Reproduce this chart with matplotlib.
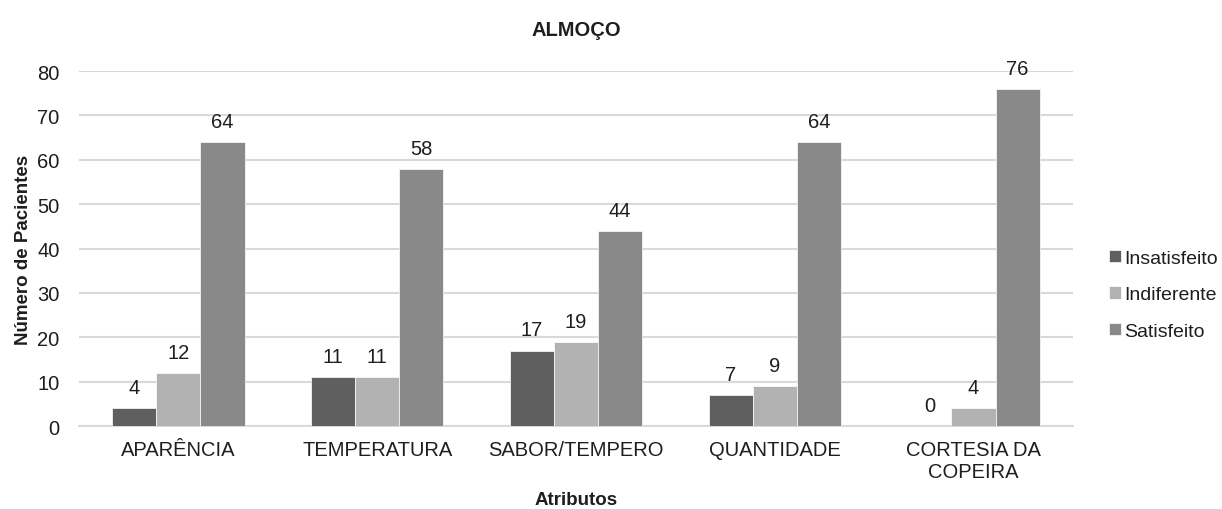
import matplotlib
matplotlib.use("Agg")
import matplotlib.pyplot as plt
import numpy as np

plt.rcParams['font.family'] = ['Liberation Sans', 'DejaVu Sans']

categories = ["APARÊNCIA", "TEMPERATURA", "SABOR/TEMPERO", "QUANTIDADE", "CORTESIA DA\nCOPEIRA"]
series_names = ["Insatisfeito", "Indiferente", "Satisfeito"]
insatisfeito = [4, 11, 17, 7, 0]
indiferente = [12, 11, 19, 9, 4]
satisfeito = [64, 58, 44, 64, 76]
yticks = [0, 10, 20, 30, 40, 50, 60, 70, 80]

colors = ["#5f5f5f", "#b2b2b2", "#898989"]
text_color = "#1e1e1e"
fs = 14.5

fig = plt.figure(figsize=(12.22, 5.10), dpi=100)
ax = fig.add_axes([0.0646, 0.1627, 0.8134, 0.6961])

x = np.arange(len(categories))
width = 0.222
for i, (vals, name, col) in enumerate(zip([insatisfeito, indiferente, satisfeito], series_names, colors)):
    pos = x + (i - 1) * width
    ax.bar(pos, vals, width, color=col, label=name, edgecolor="white", linewidth=0.5, zorder=3)
    for xb, v in zip(pos, vals):
        ax.annotate(str(v), (xb, v), xytext=(0, 8), textcoords="offset points",
                    ha="center", va="bottom", fontsize=fs, color=text_color)

ax.set_xlim(-0.5, len(categories) - 0.5)
ax.set_ylim(0, 80)
ax.set_yticks(yticks)
ax.set_xticks(x)
ax.set_xticklabels(categories, fontsize=fs, color=text_color, linespacing=1.2)
ax.tick_params(axis="y", labelsize=fs, colors=text_color, length=0, pad=14)
ax.tick_params(axis="x", length=0, pad=10)
ax.grid(axis="y", color="#d9d9d9", linewidth=1.5, zorder=0)
for s in ["top", "right", "left"]:
    ax.spines[s].set_visible(False)
ax.spines["bottom"].set_color("#d9d9d9")
ax.spines["bottom"].set_linewidth(1.5)

ax.set_title("ALMOÇO", fontsize=14.5, fontweight="bold", color=text_color, pad=26)
ax.set_xlabel("Atributos", fontsize=13.5, fontweight="bold", color=text_color, labelpad=7)
ax.set_ylabel("Número de Pacientes", fontsize=13.5, fontweight="bold", color=text_color, labelpad=4)

leg = ax.legend(loc="center left", bbox_to_anchor=(1.021, 0.37), frameon=False,
                fontsize=14, handlelength=0.6, handleheight=0.6, handletextpad=0.15,
                labelspacing=1.0, borderaxespad=0.4)
for t in leg.get_texts():
    t.set_color(text_color)

fig.savefig("out.png", dpi=100, facecolor="white")
